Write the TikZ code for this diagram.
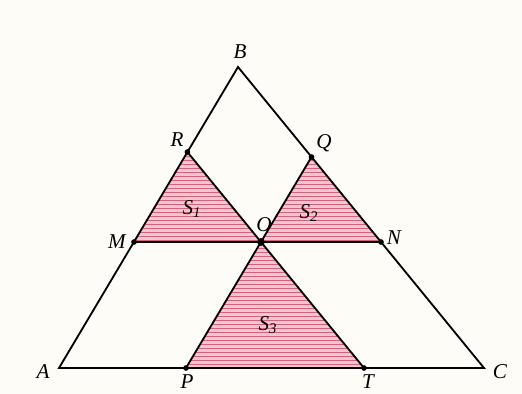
\documentclass[tikz,border=0pt]{standalone}
\usepackage{fontspec}
\setmainfont{Liberation Serif}
\usepackage{tikz}
\usetikzlibrary{calc}
\definecolor{paper}{RGB}{253,252,246}
\definecolor{hatch}{RGB}{205,70,100}

\begin{document}
\begin{tikzpicture}[
  x=0.025cm, y=-0.025cm,
  side/.style={draw, line width=1.3pt},
  dot/.style={circle, fill, inner sep=0pt, minimum size=4pt},
  bigdot/.style={circle, fill, inner sep=0pt, minimum size=5.5pt},
  lbl/.style={font=\fontsize{15}{17}\selectfont\itshape, inner sep=1pt}
]
\fill[paper] (0,0) rectangle (522,394);
\useasboundingbox (0,0) rectangle (522,394);

% points
\coordinate (A) at (59,368);
\coordinate (B) at (238,67);
\coordinate (C) at (484,368);
\coordinate (O) at (261,242);
\coordinate (M) at (134,242);
\coordinate (N) at (381,242);
\coordinate (R) at (187.4,152);
\coordinate (Q) at (311.5,157);
\coordinate (P) at (186,368);
\coordinate (T) at (364,368);

% shaded triangles
\foreach \a/\b/\c in {R/M/O, Q/O/N, O/P/T} {
  \fill[hatch!30] (\a) -- (\b) -- (\c) -- cycle;
  \begin{scope}
    \clip (\a) -- (\b) -- (\c) -- cycle;
    \foreach \y in {152,156,...,372}
      \draw[hatch!85, line width=0.6pt] (100,\y) -- (420,\y);
  \end{scope}
}

% triangle and parallels
\draw[side, line join=miter] (A) -- (B) -- (C) -- cycle;
\draw[side] (M) -- (N);
\draw[side] (R) -- (T);
\draw[side] (Q) -- (P);

% dots and labels
\node[dot] (dR) at (R) {};
\node[dot] (dQ) at (Q) {};
\node[dot] (dM) at (M) {};
\node[dot] (dN) at (N) {};
\node[dot] (dP) at (P) {};
\node[dot] (dT) at (T) {};
\node[bigdot] (dO) at (O) {};

\node[lbl] (lB) at (240,52) {B};
\node[lbl] (lR) at (177,140) {R};
\node[lbl] (lQ) at (324,143) {Q};
\node[lbl] (lM) at (117,242) {M};
\node[lbl] (lN) at (394,238) {N};
\node[lbl] (lO) at (264,225) {O};
\node[lbl] (lA) at (43,372) {A};
\node[lbl] (lC) at (500,372) {C};
\node[lbl] (lP) at (187,382) {P};
\node[lbl] (lT) at (368,382) {T};

\node[lbl] (s1) at (192,209) {S\textsubscript{1}};
\node[lbl] (s2) at (309,213) {S\textsubscript{2}};
\node[lbl] (s3) at (268,325) {S\textsubscript{3}};
\end{tikzpicture}
\end{document}
